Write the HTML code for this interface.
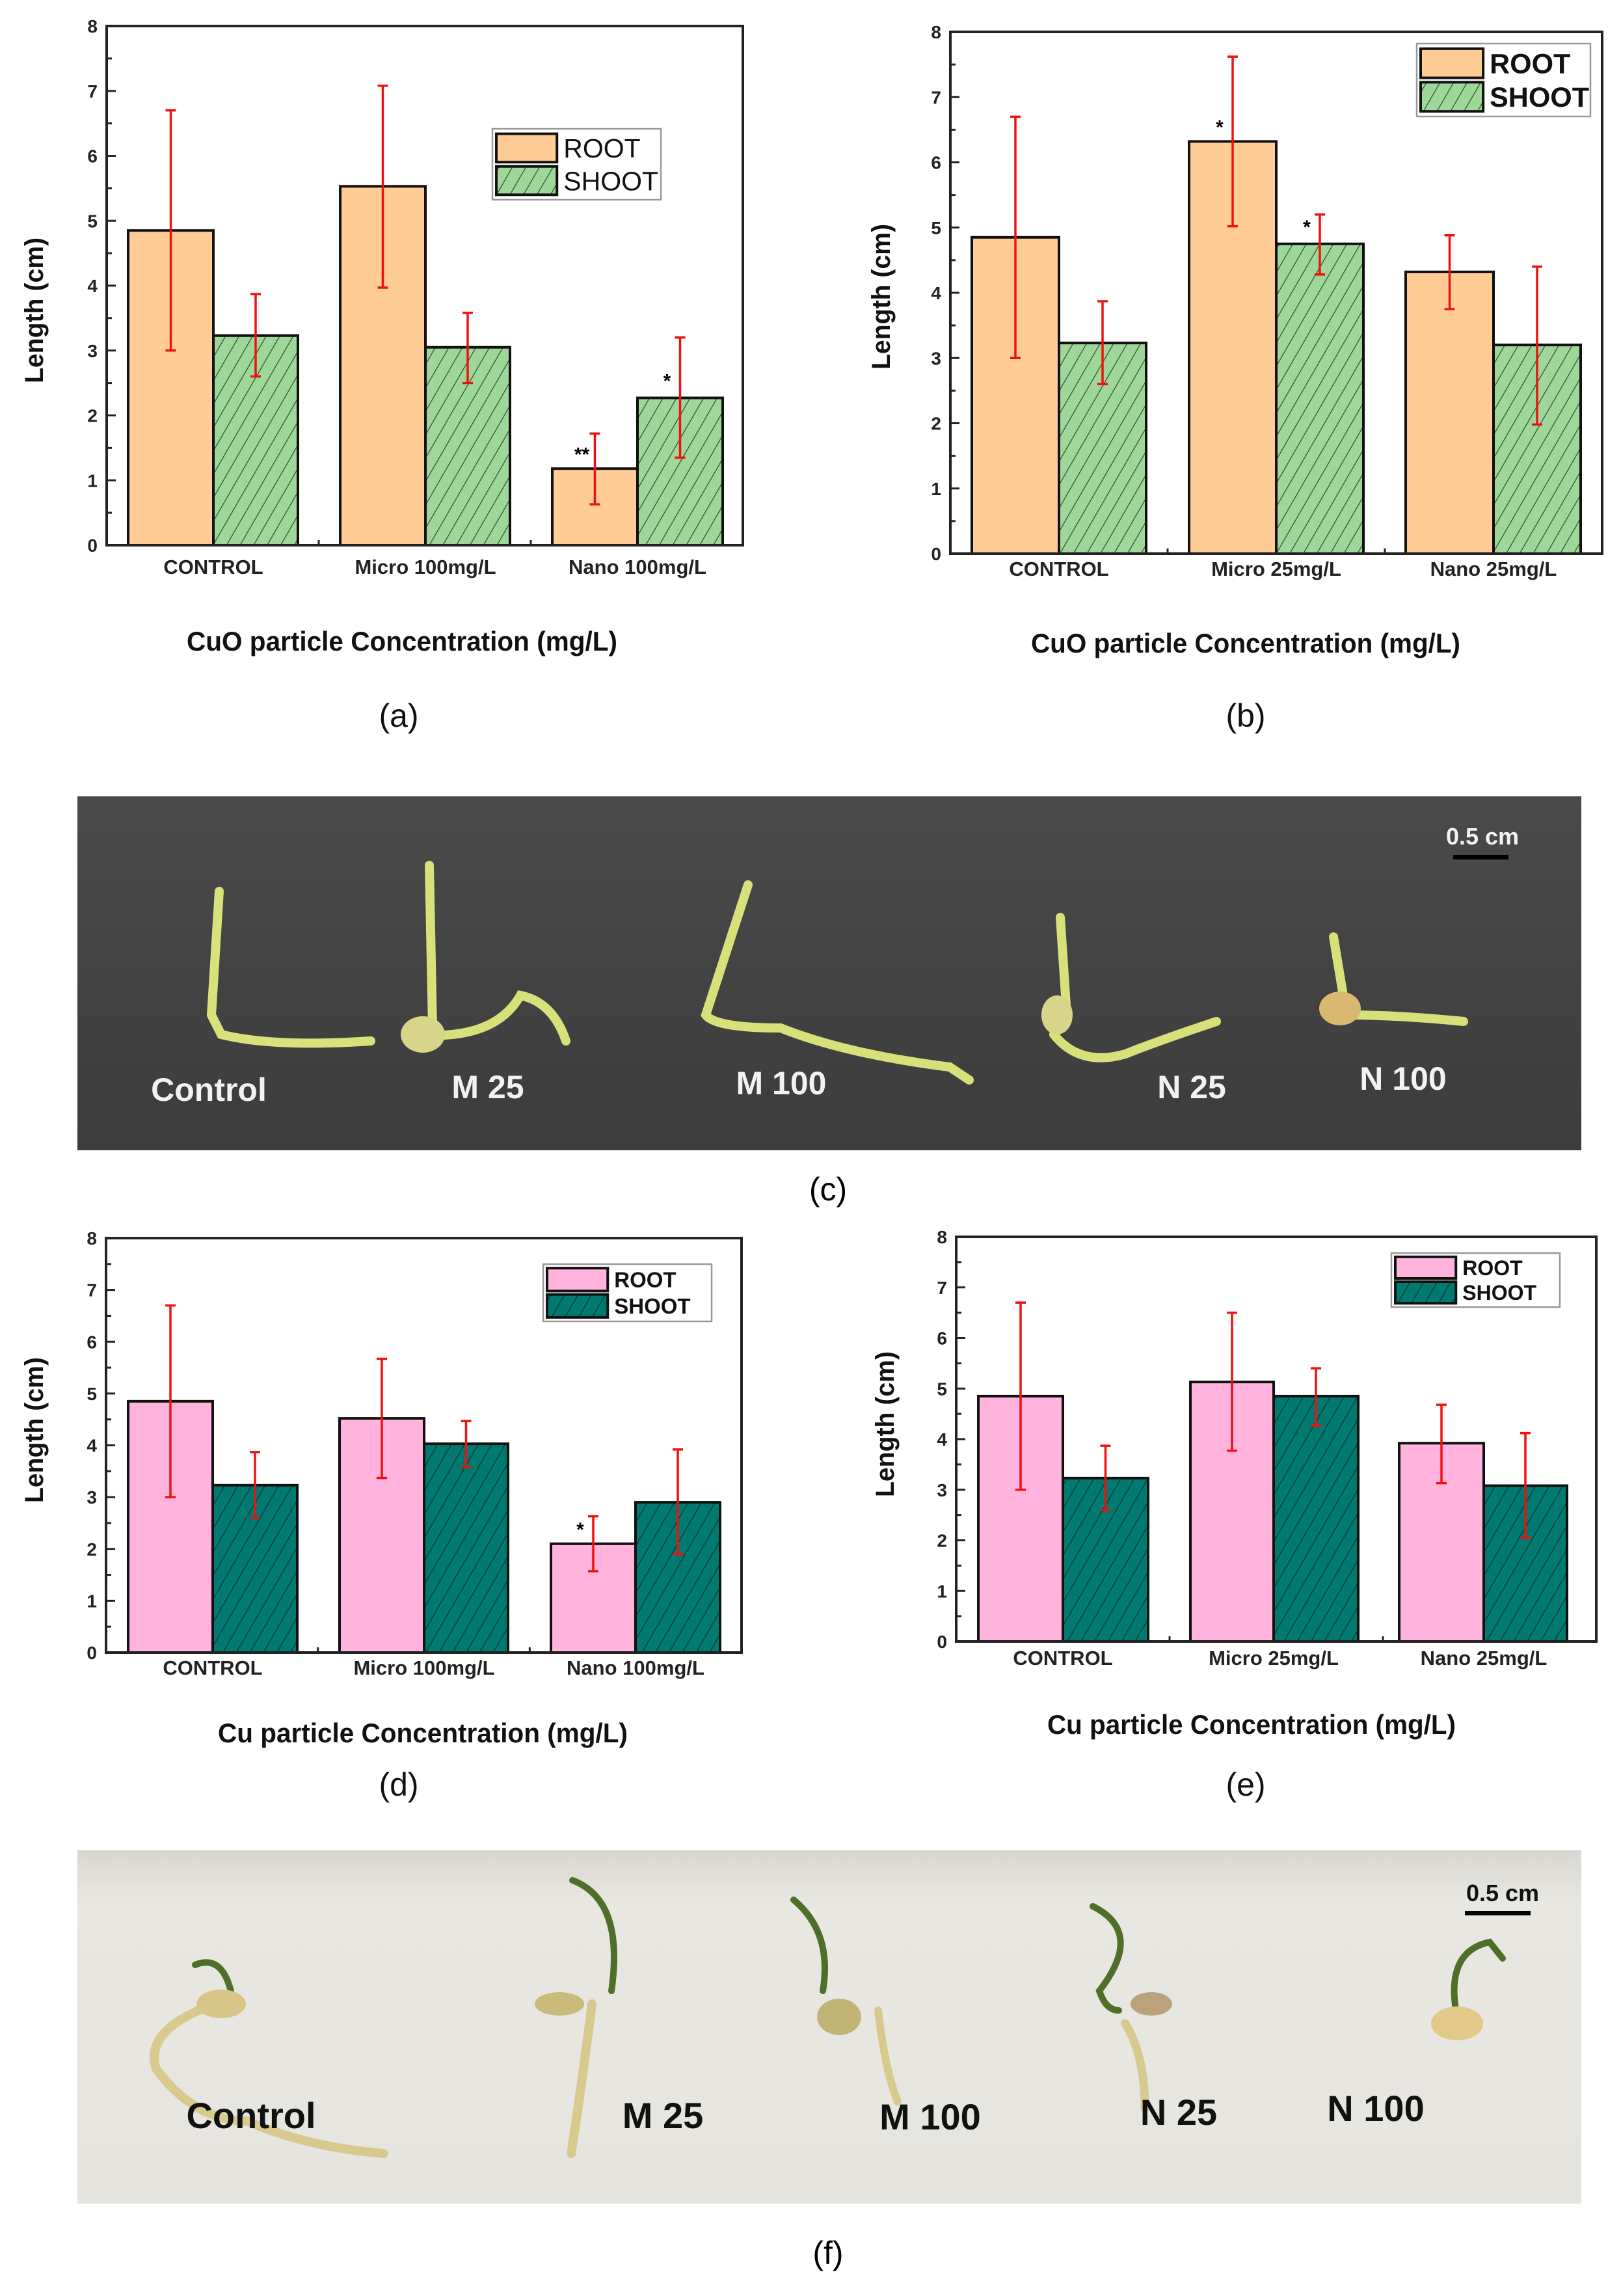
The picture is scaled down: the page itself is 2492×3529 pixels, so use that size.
<!DOCTYPE html>
<html><head><meta charset="utf-8">
<style>
html,body{margin:0;padding:0;background:#fff;}
svg{display:block;}
text{font-family:"Liberation Sans",Arial,sans-serif;}
</style></head>
<body>
<svg id="s" width="2492" height="3529" viewBox="0 0 2492 3529" xmlns="http://www.w3.org/2000/svg">
<defs>
<pattern id="hg" patternUnits="userSpaceOnUse" width="18" height="18" patternTransform="rotate(30)">
<rect width="18" height="18" fill="#9fd69a"/><line x1="0" y1="0" x2="0" y2="18" stroke="#2f4f2d" stroke-width="2.5"/></pattern>
<pattern id="ht" patternUnits="userSpaceOnUse" width="18" height="18" patternTransform="rotate(30)">
<rect width="18" height="18" fill="#007a70"/><line x1="0" y1="0" x2="0" y2="18" stroke="#0a3430" stroke-width="2.5"/></pattern>
<linearGradient id="gc" x1="0" y1="0" x2="0" y2="1"><stop offset="0" stop-color="#4a4a4a"/><stop offset="1" stop-color="#3c3c3c"/></linearGradient>
<linearGradient id="gf" x1="0" y1="0" x2="0" y2="1"><stop offset="0" stop-color="#d8d6d0"/><stop offset="0.15" stop-color="#e9e7e1"/><stop offset="1" stop-color="#e6e4de"/></linearGradient>
</defs>
<g id="charts"></g>

<!-- photo c -->
<rect x="119" y="1224" width="2312" height="544" fill="url(#gc)"/>
<g fill="none" stroke-linecap="round">
<path d="M337 1370 L325 1560 L340 1590 Q420 1610 570 1600" stroke="#d9e27a" stroke-width="14"/>
<path d="M660 1330 L665 1580 M640 1590 Q760 1600 800 1530 Q850 1540 870 1600" stroke="#d8e07a" stroke-width="14"/>
<ellipse cx="650" cy="1590" rx="34" ry="28" fill="#d8d48a" stroke="none"/>
<path d="M1150 1360 L1085 1560 Q1100 1580 1200 1580 Q1300 1620 1460 1640 L1490 1660" stroke="#d8e07a" stroke-width="14"/>
<path d="M1630 1410 L1640 1560 M1620 1590 Q1660 1640 1730 1620 Q1780 1600 1870 1570" stroke="#d8e07a" stroke-width="14"/>
<ellipse cx="1625" cy="1560" rx="24" ry="30" fill="#d8d48a" stroke="none"/>
<path d="M2050 1440 L2070 1560 Q2150 1560 2250 1570" stroke="#d8e07a" stroke-width="14"/>
<ellipse cx="2060" cy="1550" rx="32" ry="26" fill="#d9b870" stroke="none"/>
</g>
<g fill="#f2f2f2" font-weight="bold" font-size="50" text-anchor="middle">
<text x="321" y="1692">Control</text><text x="750" y="1688">M 25</text><text x="1201" y="1682">M 100</text><text x="1832" y="1688">N 25</text><text x="2157" y="1675">N 100</text>
<text x="2279" y="1298" font-size="36">0.5 cm</text></g>
<rect x="2234" y="1314" width="85" height="7" fill="#000"/>
<text x="1273" y="1845" text-anchor="middle" font-family="Liberation Serif" font-size="50">(c)</text>

<!-- photo f -->
<rect x="119" y="2844" width="2312" height="543" fill="url(#gf)"/>
<g fill="none" stroke-linecap="round">
<path d="M330 3080 Q220 3120 240 3180 Q300 3260 380 3260 Q470 3300 590 3310" stroke="#d8c98e" stroke-width="14"/>
<path d="M300 3020 Q350 3000 360 3090" stroke="#4f6e2a" stroke-width="10"/>
<ellipse cx="340" cy="3080" rx="38" ry="22" fill="#d9c58a" stroke="none"/>
<path d="M910 3080 Q895 3200 878 3310" stroke="#d8c98e" stroke-width="14"/>
<path d="M880 2890 Q960 2920 940 3060" stroke="#4f6e2a" stroke-width="10"/>
<ellipse cx="860" cy="3080" rx="38" ry="18" fill="#c9bb7a" stroke="none"/>
<path d="M1350 3090 Q1360 3180 1380 3230" stroke="#d8c98e" stroke-width="12"/>
<path d="M1220 2920 Q1280 2970 1265 3060" stroke="#4f6e2a" stroke-width="10"/>
<ellipse cx="1290" cy="3100" rx="34" ry="28" fill="#c2b474" stroke="none"/>
<path d="M1730 3110 Q1760 3160 1760 3240" stroke="#d8c98e" stroke-width="13"/>
<path d="M1680 2930 Q1760 2970 1690 3060 Q1700 3090 1720 3090" stroke="#4f6e2a" stroke-width="10"/>
<ellipse cx="1770" cy="3080" rx="32" ry="18" fill="#b9a27c" stroke="none"/>
<path d="M2240 3100 Q2220 3000 2290 2985 L2310 3010" stroke="#4f6e2a" stroke-width="10"/>
<ellipse cx="2240" cy="3110" rx="40" ry="26" fill="#e2c98a" stroke="none"/>
</g>
<g fill="#111" font-weight="bold" font-size="56" text-anchor="middle">
<text x="386" y="3271">Control</text><text x="1019" y="3271">M 25</text><text x="1430" y="3273">M 100</text><text x="1812" y="3266">N 25</text><text x="2115" y="3260">N 100</text>
<text x="2310" y="2922" font-size="36">0.5 cm</text></g>
<rect x="2252" y="2937" width="101" height="7" fill="#000"/>
<text x="1273" y="3480" text-anchor="middle" font-family="Liberation Serif" font-size="50">(f)</text>
</svg>
<script>
var charts=[
{x0:164,x1:1142,yT:40,yB:838,edges:[[197,328,458],[523,654,784],[849,980,1111]],
 vals:[[4.85,3.23,3.0,6.7,2.6,3.87],[5.53,3.05,3.97,7.08,2.5,3.58],[1.18,2.27,0.63,1.72,1.35,3.2]],
 stars:[[],[],["**","*"]],rc:"#ffcc96",sp:"url(#hg)",leg:[757,198,1016,307],legBold:false,
 cats:["CONTROL","Micro 100mg/L","Nano 100mg/L"],catY:871,title:"CuO particle Concentration (mg/L)",tX:[287,949],tY:986,
 yl:[52,477],lab:"(a)",labXY:[613,1117]},
{x0:1461,x1:2463,yT:49,yB:851,edges:[[1494,1628,1762],[1828,1962,2096],[2161,2296,2430]],
 vals:[[4.85,3.23,3.0,6.7,2.6,3.87],[6.32,4.75,5.02,7.62,4.28,5.2],[4.32,3.2,3.75,4.88,1.98,4.4]],
 stars:[[],["*","*"],[]],rc:"#ffcc96",sp:"url(#hg)",leg:[2178,67,2445,179],legBold:true,
 cats:["CONTROL","Micro 25mg/L","Nano 25mg/L"],catY:874,title:"CuO particle Concentration (mg/L)",tX:[1585,2245],tY:989,
 yl:[1354,456],lab:"(b)",labXY:[1915,1117]},
{x0:163,x1:1140,yT:1903,yB:2540,edges:[[197,327,457],[522,652,781],[847,977,1107]],
 vals:[[4.85,3.23,3.0,6.7,2.6,3.87],[4.52,4.03,3.37,5.67,3.58,4.47],[2.1,2.9,1.57,2.63,1.9,3.92]],
 stars:[[],[],["*",""]],rc:"#ffb3dd",sp:"url(#ht)",leg:[835,1943,1094,2031],legBold:true,
 cats:["CONTROL","Micro 100mg/L","Nano 100mg/L"],catY:2563,title:"Cu particle Concentration (mg/L)",tX:[335,965],tY:2664,
 yl:[52,2198],lab:"(d)",labXY:[613,2760]},
{x0:1470,x1:2454,yT:1901,yB:2523,edges:[[1504,1634,1765],[1830,1958,2088],[2151,2281,2409]],
 vals:[[4.85,3.23,3.0,6.7,2.6,3.87],[5.13,4.85,3.77,6.5,4.27,5.4],[3.92,3.08,3.13,4.68,2.05,4.12]],
 stars:[[],[],[]],rc:"#ffb3dd",sp:"url(#ht)",leg:[2139,1926,2398,2009],legBold:true,
 cats:["CONTROL","Micro 25mg/L","Nano 25mg/L"],catY:2548,title:"Cu particle Concentration (mg/L)",tX:[1610,2238],tY:2651,
 yl:[1360,2189],lab:"(e)",labXY:[1915,2760]}
];
var h="";
charts.forEach(function(c){
 var u=(c.yB-c.yT)/8; function Y(v){return c.yB-v*u;}
 c.edges.forEach(function(e,i){var v=c.vals[i];
  h+='<rect x="'+e[0]+'" y="'+Y(v[0])+'" width="'+(e[1]-e[0])+'" height="'+(v[0]*u)+'" fill="'+c.rc+'" stroke="#111" stroke-width="4"/>';
  h+='<rect x="'+e[1]+'" y="'+Y(v[1])+'" width="'+(e[2]-e[1])+'" height="'+(v[1]*u)+'" fill="'+c.sp+'" stroke="#111" stroke-width="4"/>';
  [[ (e[0]+e[1])/2, v[2],v[3]],[(e[1]+e[2])/2,v[4],v[5]]].forEach(function(b){
   h+='<path d="M'+b[0]+' '+Y(b[1])+'V'+Y(b[2])+'M'+(b[0]-8)+' '+Y(b[1])+'h16M'+(b[0]-8)+' '+Y(b[2])+'h16" stroke="#f01010" stroke-width="3.5" fill="none"/>';
  });
  var st=c.stars[i];
  if(st[0])h+='<text x="'+((e[0]+e[1])/2-20)+'" y="'+(Y(v[0])-12)+'" font-size="30" font-weight="bold" text-anchor="middle">'+st[0]+'</text>';
  if(st[1])h+='<text x="'+((e[1]+e[2])/2-20)+'" y="'+(Y(Math.max(v[1],0))-16)+'" font-size="30" font-weight="bold" text-anchor="middle">'+st[1]+'</text>';
 });
 h+='<rect x="'+c.x0+'" y="'+c.yT+'" width="'+(c.x1-c.x0)+'" height="'+(c.yB-c.yT)+'" fill="none" stroke="#222" stroke-width="4"/>';
 for(var k=0;k<=8;k++){var y=Y(k);
  h+='<path d="M'+c.x0+' '+y+'h14" stroke="#222" stroke-width="3"/>';
  if(k<8)h+='<path d="M'+c.x0+' '+(y-u/2)+'h8" stroke="#222" stroke-width="3"/>';
  h+='<text x="'+(c.x0-14)+'" y="'+(y+10)+'" font-size="28" font-weight="bold" text-anchor="end" fill="#222">'+k+'</text>';}
 var gw=(c.x1-c.x0)/3;
 for(var g=1;g<3;g++)h+='<path d="M'+(c.x0+g*gw)+' '+c.yB+'v-8" stroke="#222" stroke-width="3"/>';
 c.cats.forEach(function(t,i){var cx=c.edges[i][1];
  h+='<text x="'+cx+'" y="'+(c.catY+11)+'" font-size="31" font-weight="bold" text-anchor="middle" fill="#222">'+t+'</text>';});
 var L=c.leg, lh=(L[3]-L[1]);
 h+='<rect x="'+L[0]+'" y="'+L[1]+'" width="'+(L[2]-L[0])+'" height="'+lh+'" fill="#fff" stroke="#999" stroke-width="2.5"/>';
 var sw=(L[2]-L[0])*0.36, sh=lh*0.4;
 h+='<rect x="'+(L[0]+6)+'" y="'+(L[1]+lh*0.07)+'" width="'+sw+'" height="'+sh+'" fill="'+c.rc+'" stroke="#111" stroke-width="4"/>';
 h+='<rect x="'+(L[0]+6)+'" y="'+(L[1]+lh*0.53)+'" width="'+sw+'" height="'+sh+'" fill="'+c.sp+'" stroke="#111" stroke-width="4"/>';
 var fs=Math.round(lh*0.38), fw=c.legBold?'bold':'normal';
 h+='<text x="'+(L[0]+sw+16)+'" y="'+(L[1]+lh*0.27+fs*0.36)+'" font-size="'+fs+'" font-weight="'+fw+'" fill="#111">ROOT</text>';
 h+='<text x="'+(L[0]+sw+16)+'" y="'+(L[1]+lh*0.73+fs*0.36)+'" font-size="'+fs+'" font-weight="'+fw+'" fill="#111">SHOOT</text>';
 h+='<text x="'+c.tX[0]+'" y="'+(c.tY+14)+'" font-size="42" font-weight="bold" textLength="'+(c.tX[1]-c.tX[0])+'" lengthAdjust="spacingAndGlyphs" fill="#111">'+c.title+'</text>';
 h+='<text transform="translate('+(c.yl[0]+14)+','+c.yl[1]+') rotate(-90)" font-size="40" font-weight="bold" text-anchor="middle" textLength="224" lengthAdjust="spacingAndGlyphs" fill="#111">Length (cm)</text>';
 h+='<text x="'+c.labXY[0]+'" y="'+c.labXY[1]+'" font-family="Liberation Serif" font-size="50" text-anchor="middle" fill="#111">'+c.lab+'</text>';
});
document.getElementById("charts").innerHTML=h;
</script>
</body></html>
